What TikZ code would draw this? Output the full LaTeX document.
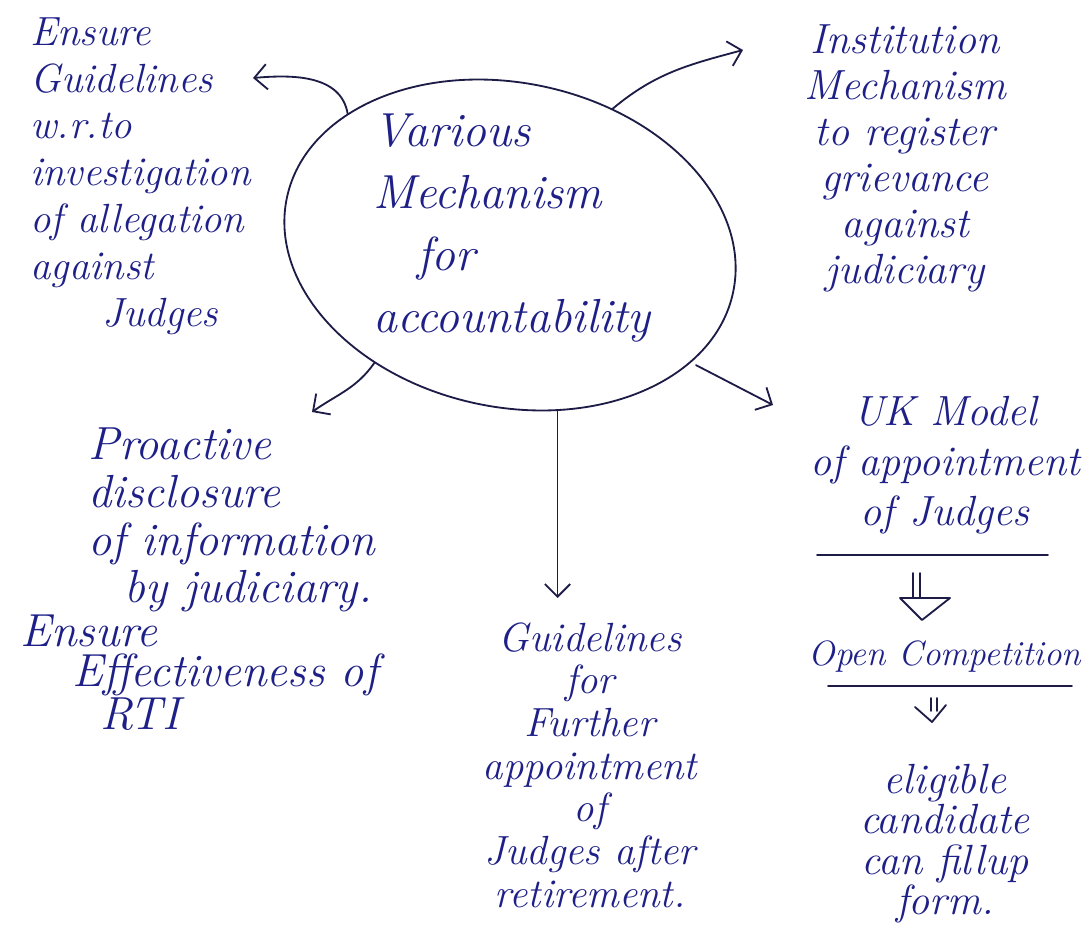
\documentclass[tikz,border=0pt]{standalone}
\usepackage{fontspec}
\usetikzlibrary{positioning,shapes.geometric,arrows.meta}

\definecolor{pen}{RGB}{28,28,70}
\definecolor{ink}{RGB}{30,32,135}

\tikzset{
  note/.style 2 args={text=ink, inner sep=0pt, font=\fontsize{#1}{#2}\selectfont\itshape},
  hubring/.style={draw=pen, line width=1.3pt, ellipse, rotate=-12,
                  minimum width=11.4cm, minimum height=8.1cm},
  arr/.style={draw=pen, line width=1.3pt, line cap=round,
              -{Straight Barb[length=9pt,width=18pt]}},
  rule/.style={draw=pen, line width=1.3pt, line cap=round, line join=round},
}

\begin{document}
\begin{tikzpicture}[x=0.025cm, y=-0.025cm]
\useasboundingbox (0,0) rectangle (1090,927);

% centre
\node[hubring] (hub) at (510,245) {};
\node[note={34}{44}, align=left, anchor=north west] (hubtext) at (373,114)
  {Various\\Mechanism\\\hspace*{1.1cm}for\\accountability};

% branches
\node[note={29}{33.4}, align=left, anchor=north west] (guide) at (30,17)
  {Ensure\\Guidelines\\w.r.to\\investigation\\of allegation\\against\\\hspace*{1.8cm}Judges};
\node[note={30}{32.7}, align=center, anchor=north] (inst) at (905,24)
  {Institution\\Mechanism\\to register\\grievance\\against\\judiciary};
\node[note={33}{33.9}, align=left, anchor=north west] (disclose) at (88,428)
  {Proactive\\disclosure\\of information\\\hspace*{0.9cm}by judiciary.};
\node[note={33}{28.4}, align=left, anchor=north west] (rti) at (20,615)
  {Ensure\\\hspace*{1.3cm}Effectiveness of\\\hspace*{2cm}RTI};
\node[note={29}{30.4}, align=center, anchor=north] (reappoint) at (590,622)
  {Guidelines\\for\\Further\\appointment\\of\\Judges after\\retirement.};

% UK model chain
\node[note={30}{35.5}, align=center, anchor=north] (uk) at (945,396)
  {UK Model\\of appointment\\of Judges};
\node[note={25}{30}, below=2.65cm of uk] (open) {Open Competition};
\node[note={30}{28.9}, align=center, below=2.275cm of open] (elig)
  {eligible\\candidate\\can fillup\\form.};

\draw[rule] (817,555) -- (1048,555);
\draw[rule] (913,573) -- (913,598) (920,573) -- (920,598);
\draw[rule] (900,598) -- (950,598) -- (922,620) -- cycle;
\draw[rule] (828,686) -- (1072,686);
\draw[rule] (931,698) -- (931,711) (937,698) -- (937,711);
\draw[rule] (915,707) -- (932,722) -- (946,705);

% arrows out of the centre
\coordinate (guidetip) at (253,78);
\coordinate (insttip) at (743,50);
\coordinate (disctip) at (312,412);
\coordinate (uktip) at (773,405);

\draw[arr] (hub.153) to[out=100,in=5] (guidetip);
\draw[arr] (hub.65) to[out=40,in=195] (insttip);
\draw[arr] (hub.-127) to[out=235,in=35] (disctip);
\draw[arr, shorten >=0.6cm] (hub.-62) -- (hub.-62 |- reappoint.north);
\draw[arr, shorten <=4pt] (hub.-21) -- (uktip);
\end{tikzpicture}
\end{document}
